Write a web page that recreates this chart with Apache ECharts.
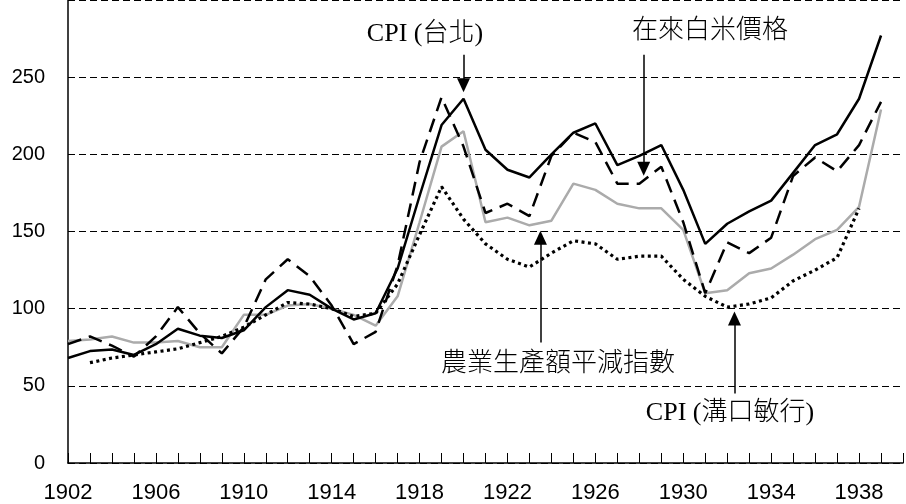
<!DOCTYPE html>
<html><head><meta charset="utf-8">
<script src="https://cdn.jsdelivr.net/npm/echarts@6/dist/echarts.min.js"></script>
<style>html,body{margin:0;padding:0;background:#fff}#c{width:906px;height:504px}</style>
</head><body><div id="c"></div>
<script>
const years = [1902,1903,1904,1905,1906,1907,1908,1909,1910,1911,1912,1913,1914,1915,1916,1917,1918,1919,1920,
  1921,1922,1923,1924,1925,1926,1927,1928,1929,1930,1931,1932,1933,1934,1935,1936,1937,1938,1939];
// CPI (台北) — solid black
const cpiTaipei = [68,72.5,73.5,70,77,87,82.5,81,86,101,112,109,100,93,97,126,173,219,236,
  203,190,185,200,214,220,193,199,206,177,142,155,163,170,188,206,213,236,277];
// 在來白米價格 — dashed black
const ricePrice = [77,82,76,69,82,101,84,71,88,119,132,121,102,77,85,128,195,237,205,
  162,168,160,199,214,208,181,181,192,156,110,143,136,146,186,198,189,206,234];
// 農業生產額平減指數 — grey
const agriDeflator = [79,80,82,78,78,79,75,75,96,96,102,103,100,96,89,108,156,205,215,
  156,159,154,157,181,177,168,165,165,151,110,112,123,126,135,145,151,166,229];
// CPI (溝口敏行) — dotted
const cpiMizoguchi = [null,65,68,70,72,74,78,82,88,96,104,103,100,95,97,116,148,179,158,
  142,132,127,136,144,142,132,134,134,119,108,101,103,107,118,125,133,165,null];
const xLabelYears = [1902,1906,1910,1914,1918,1922,1926,1930,1934,1938];
const yTicks = [0,50,100,150,200,250];

const pairs = arr => years.map((y,i)=>[y, arr[i]]);
const annoFont = '300 26px "Liberation Serif","Times New Roman","Noto Sans CJK TC",serif';

const chart = echarts.init(document.getElementById('c'), null, {renderer:'canvas'});
const arrowStyle = {color:'#000', width:1.5, type:'solid'};
chart.setOption({
  animation:false,
  backgroundColor:'#fff',
  grid:{left:68, right:-18.6, top:-3, bottom:41, containLabel:false},
  xAxis:{type:'value', min:1902, max:1940, interval:1,
    axisLine:{show:true, onZero:false, lineStyle:{color:'#000', width:1.5}},
    axisTick:{show:true, inside:true, length:10, lineStyle:{color:'#000', width:1}},
    axisLabel:{margin:19, fontSize:22, color:'#000', fontFamily:'"Liberation Sans Narrow","Liberation Sans",Arial,sans-serif',
      formatter:v => xLabelYears.includes(v) ? String(v) : ''},
    splitLine:{show:false}},
  yAxis:{type:'value', min:0, max:300, interval:50,
    axisLine:{show:true, lineStyle:{color:'#000', width:1.5}},
    axisTick:{show:false},
    axisLabel:{margin:23, fontSize:20, color:'#000', fontFamily:'"Liberation Sans",Arial,sans-serif',
      formatter:v => yTicks.includes(v) ? String(v) : ''},
    splitLine:{show:true, lineStyle:{color:'#000', width:1, type:[7,4]}}},
  series:[
    {name:'農業生產額平減指數', type:'line', data:pairs(agriDeflator), symbol:'none',
      lineStyle:{color:'#ababab', width:2.5}},
    {name:'CPI (溝口敏行)', type:'line', data:pairs(cpiMizoguchi), symbol:'none', connectNulls:false,
      lineStyle:{color:'#000', width:3.2, type:[3,3.5], cap:'butt'}},
    {name:'在來白米價格', type:'line', data:pairs(ricePrice), symbol:'none',
      lineStyle:{color:'#000', width:2.5, type:[14,8]}},
    {name:'CPI (台北)', type:'line', data:pairs(cpiTaipei), symbol:'none',
      lineStyle:{color:'#000', width:2.5},
      markLine:{silent:true, symbol:['none','triangle'], symbolSize:[13,14], precision:4,
        lineStyle:arrowStyle, label:{show:false}, emphasis:{disabled:true},
        data:[
          [{coord:[1920,264.6]},{coord:[1920,244.7]}],
          [{coord:[1928.2,264.6]},{coord:[1928.2,190.7]}],
          [{coord:[1923.5,78]},{coord:[1923.5,146]}],
          [{coord:[1932.33,45]},{coord:[1932.33,93.6]}]
        ]}}
  ],
  graphic:[
    {type:'text', x:425, y:34, style:{text:'CPI (台北)', font:annoFont, fill:'#000', align:'center', verticalAlign:'middle'}},
    {type:'text', x:710, y:31, style:{text:'在來白米價格', font:annoFont, fill:'#000', align:'center', verticalAlign:'middle'}},
    {type:'text', x:558, y:364, style:{text:'農業生產額平減指數', font:annoFont, fill:'#000', align:'center', verticalAlign:'middle'}},
    {type:'text', x:730, y:413, style:{text:'CPI (溝口敏行)', font:annoFont, fill:'#000', align:'center', verticalAlign:'middle'}}
  ]
});
</script></body></html>
